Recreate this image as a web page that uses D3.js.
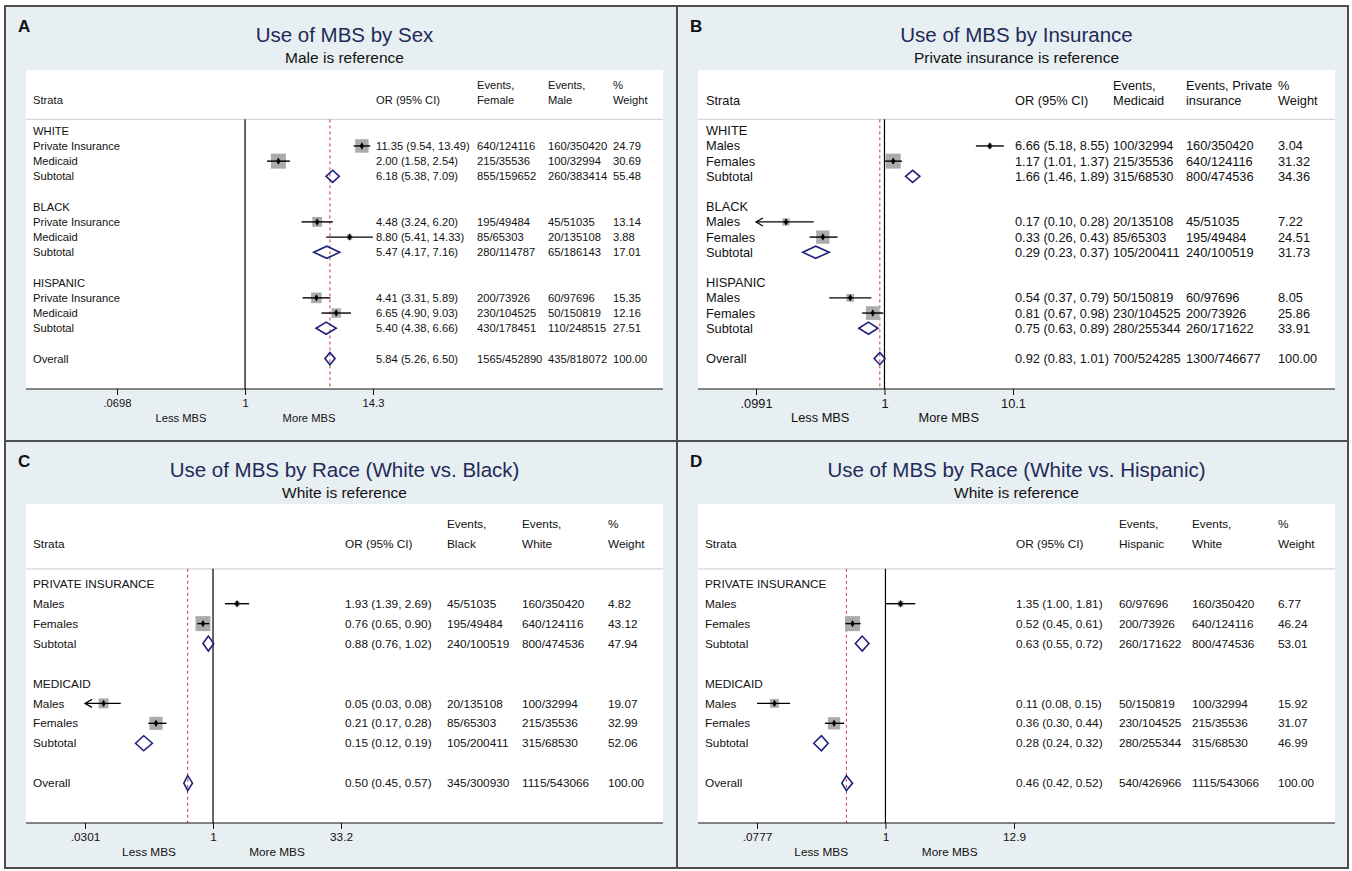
<!DOCTYPE html>
<html><head><meta charset="utf-8">
<script src="https://cdn.jsdelivr.net/npm/d3@7"></script>
<style>
body{margin:0;background:#fff}
text{font-family:"Liberation Sans",Arial,sans-serif}
</style>
</head><body>
<svg id="chart" width="1352" height="871"></svg>
<script>
// ---------- Panel A : Use of MBS by Sex ----------
const A_title = "Use of MBS by Sex";
const A_subtitle = "Male is reference";
const A_groups = ["WHITE", "BLACK", "HISPANIC"];
const A_strata = ["Private Insurance", "Medicaid"];
const A_or  = [11.35, 2.00, 6.18, 4.48, 8.80, 5.47, 4.41, 6.65, 5.40, 5.84];
const A_lcl = [9.54, 1.58, 5.38, 3.24, 5.41, 4.17, 3.31, 4.90, 4.38, 5.26];
const A_ucl = [13.49, 2.54, 7.09, 6.20, 14.33, 7.16, 5.89, 9.03, 6.66, 6.50];
const A_ev1 = ["640/124116","215/35536","855/159652","195/49484","85/65303","280/114787","200/73926","230/104525","430/178451","1565/452890"];
const A_ev2 = ["160/350420","100/32994","260/383414","45/51035","20/135108","65/186143","60/97696","50/150819","110/248515","435/818072"];
const A_weight = [24.79, 30.69, 55.48, 13.14, 3.88, 17.01, 15.35, 12.16, 27.51, 100.00];
const A_head1 = ["Events,", "Female"];
const A_head2 = ["Events,", "Male"];
const A_ticks = [0.0698, 1, 14.3];
const A_tickLabels = [".0698", "1", "14.3"];

// ---------- Panel B : Use of MBS by Insurance ----------
const B_title = "Use of MBS by Insurance";
const B_subtitle = "Private insurance is reference";
const B_groups = ["WHITE", "BLACK", "HISPANIC"];
const B_strata = ["Males", "Females"];
const B_or  = [6.66, 1.17, 1.66, 0.17, 0.33, 0.29, 0.54, 0.81, 0.75, 0.92];
const B_lcl = [5.18, 1.01, 1.46, 0.097, 0.26, 0.23, 0.37, 0.67, 0.63, 0.83];
const B_ucl = [8.55, 1.37, 1.89, 0.28, 0.43, 0.37, 0.79, 0.98, 0.89, 1.01];
const B_ev1 = ["100/32994","215/35536","315/68530","20/135108","85/65303","105/200411","50/150819","230/104525","280/255344","700/524285"];
const B_ev2 = ["160/350420","640/124116","800/474536","45/51035","195/49484","240/100519","60/97696","200/73926","260/171622","1300/746677"];
const B_weight = [3.04, 31.32, 34.36, 7.22, 24.51, 31.73, 8.05, 25.86, 33.91, 100.00];
const B_head1 = ["Events,", "Medicaid"];
const B_head2 = ["Events, Private", "insurance"];
const B_ticks = [0.0991, 1, 10.1];
const B_tickLabels = [".0991", "1", "10.1"];

// ---------- Panel C : Use of MBS by Race (White vs. Black) ----------
const C_title = "Use of MBS by Race (White vs. Black)";
const C_subtitle = "White is reference";
const C_groups = ["PRIVATE INSURANCE", "MEDICAID"];
const C_strata = ["Males", "Females"];
const C_or  = [1.93, 0.76, 0.88, 0.05, 0.21, 0.15, 0.50];
const C_lcl = [1.39, 0.65, 0.76, 0.029, 0.17, 0.12, 0.45];
const C_ucl = [2.69, 0.90, 1.02, 0.08, 0.28, 0.19, 0.57];
const C_ev1 = ["45/51035","195/49484","240/100519","20/135108","85/65303","105/200411","345/300930"];
const C_ev2 = ["160/350420","640/124116","800/474536","100/32994","215/35536","315/68530","1115/543066"];
const C_weight = [4.82, 43.12, 47.94, 19.07, 32.99, 52.06, 100.00];
const C_head1 = ["Events,", "Black"];
const C_head2 = ["Events,", "White"];
const C_ticks = [0.0301, 1, 33.2];
const C_tickLabels = [".0301", "1", "33.2"];

// ---------- Panel D : Use of MBS by Race (White vs. Hispanic) ----------
const D_title = "Use of MBS by Race (White vs. Hispanic)";
const D_subtitle = "White is reference";
const D_groups = ["PRIVATE INSURANCE", "MEDICAID"];
const D_strata = ["Males", "Females"];
const D_or  = [1.35, 0.52, 0.63, 0.11, 0.36, 0.28, 0.46];
const D_lcl = [1.00, 0.45, 0.55, 0.0777, 0.30, 0.24, 0.42];
const D_ucl = [1.81, 0.61, 0.72, 0.15, 0.44, 0.32, 0.52];
const D_ev1 = ["60/97696","200/73926","260/171622","50/150819","230/104525","280/255344","540/426966"];
const D_ev2 = ["160/350420","640/124116","800/474536","100/32994","215/35536","315/68530","1115/543066"];
const D_weight = [6.77, 46.24, 53.01, 15.92, 31.07, 46.99, 100.00];
const D_head1 = ["Events,", "Hispanic"];
const D_head2 = ["Events,", "White"];
const D_ticks = [0.0777, 1, 12.9];
const D_tickLabels = [".0777", "1", "12.9"];

// ---------- Layout / style (not data) ----------
const layout = {
  A:{x0:5,  y0:6,   x1:677,  y1:441, font:11.2, axisPx:[91,347], cols:[7,350,451,522,587], top:64, axis:383},
  B:{x0:677,y0:6,   x1:1348, y1:441, font:12.8, axisPx:[58,315], cols:[8,317,415,488,580], top:64, axis:383},
  C:{x0:5,  y0:441, x1:677,  y1:868, font:11.8, axisPx:[59,315], cols:[7,319,421,496,582], top:63, axis:382},
  D:{x0:677,y0:441, x1:1348, y1:868, font:11.8, axisPx:[59,316], cols:[7,318,421,494,580], top:63, axis:382}
};

const panels = [
  {key:"A", title:A_title, subtitle:A_subtitle, groups:A_groups, strata:A_strata, or:A_or, lcl:A_lcl, ucl:A_ucl, ev1:A_ev1, ev2:A_ev2, w:A_weight, h1:A_head1, h2:A_head2, ticks:A_ticks, tickLabels:A_tickLabels},
  {key:"B", title:B_title, subtitle:B_subtitle, groups:B_groups, strata:B_strata, or:B_or, lcl:B_lcl, ucl:B_ucl, ev1:B_ev1, ev2:B_ev2, w:B_weight, h1:B_head1, h2:B_head2, ticks:B_ticks, tickLabels:B_tickLabels},
  {key:"C", title:C_title, subtitle:C_subtitle, groups:C_groups, strata:C_strata, or:C_or, lcl:C_lcl, ucl:C_ucl, ev1:C_ev1, ev2:C_ev2, w:C_weight, h1:C_head1, h2:C_head2, ticks:C_ticks, tickLabels:C_tickLabels},
  {key:"D", title:D_title, subtitle:D_subtitle, groups:D_groups, strata:D_strata, or:D_or, lcl:D_lcl, ucl:D_ucl, ev1:D_ev1, ev2:D_ev2, w:D_weight, h1:D_head1, h2:D_head2, ticks:D_ticks, tickLabels:D_tickLabels}
];

const svg = d3.select("#chart");
const FONT = '"Liberation Sans", Arial, sans-serif';

function buildRows(p) {
  const rows = [];
  let k = 0;
  p.groups.forEach(gname => {
    rows.push({type:"group", label:gname});
    p.strata.forEach(s => { rows.push({type:"study", label:s, idx:k}); k++; });
    rows.push({type:"subtotal", label:"Subtotal", idx:k}); k++;
    rows.push({type:"blank"});
  });
  rows.push({type:"overall", label:"Overall", idx:k});
  return rows;
}

function drawPanel(p) {
  const L = layout[p.key];
  const g = svg.append("g");
  g.append("rect").attr("x", L.x0).attr("y", L.y0).attr("width", L.x1 - L.x0).attr("height", L.y1 - L.y0)
    .attr("fill", "#e8eff2");
  const wl = L.x0 + 21, wr = L.x0 + 658, wt = L.y0 + L.top, ay = L.y0 + L.axis;
  g.append("rect").attr("x", wl).attr("y", wt).attr("width", wr - wl).attr("height", ay - wt).attr("fill", "#fff");

  // panel letter, title, subtitle
  g.append("text").attr("x", L.x0 + 13).attr("y", L.y0 + 26).text(p.key)
    .attr("font-size", 17).attr("font-weight", "bold").attr("fill", "#111");
  const cx = (wl + wr) / 2;
  g.append("text").attr("x", cx).attr("y", L.y0 + 36).attr("text-anchor", "middle")
    .attr("font-size", 20.5).attr("fill", "#1d2b59").text(p.title);
  g.append("text").attr("x", cx).attr("y", L.y0 + 57).attr("text-anchor", "middle")
    .attr("font-size", 15.5).attr("fill", "#111").text(p.subtitle);

  const rows = buildRows(p);
  const N = rows.length - 1;
  const y = d3.scaleLinear().domain([-4, N + 2]).range([wt, ay]);
  const rowH = y(1) - y(0);
  const x = d3.scaleLog().domain([p.ticks[0], p.ticks[2]]).range([wl + L.axisPx[0], wl + L.axisPx[1]]);
  const [dmin, dmax] = x.domain();
  const fs = L.font;

  const txt = (xx, yy, s, anchor) => g.append("text").attr("x", xx).attr("y", yy).attr("dy", "0.35em")
    .attr("font-size", fs).attr("fill", "#111").attr("text-anchor", anchor || "start").text(s);

  // header (two lines)
  const hy1 = y(-3), hy2 = y(-2);
  txt(wl + L.cols[0], hy2, "Strata");
  txt(wl + L.cols[1], hy2, "OR (95% CI)");
  txt(wl + L.cols[2], hy1, p.h1[0]); txt(wl + L.cols[2], hy2, p.h1[1]);
  txt(wl + L.cols[3], hy1, p.h2[0]); txt(wl + L.cols[3], hy2, p.h2[1]);
  txt(wl + L.cols[4], hy1, "%");     txt(wl + L.cols[4], hy2, "Weight");

  const sepY = y(-0.75);
  g.append("line").attr("x1", wl).attr("x2", wr).attr("y1", sepY).attr("y2", sepY)
    .attr("stroke", "#d6d6d6").attr("stroke-width", 1.3);

  // reference lines
  g.append("line").attr("x1", x(1)).attr("x2", x(1)).attr("y1", sepY).attr("y2", ay)
    .attr("stroke", "#000").attr("stroke-width", 1.2);
  const overallIdx = p.or.length - 1;
  g.append("line").attr("x1", x(p.or[overallIdx])).attr("x2", x(p.or[overallIdx])).attr("y1", sepY).attr("y2", ay)
    .attr("stroke", "#c8373a").attr("stroke-width", 1).attr("stroke-dasharray", "3,3");

  const diamondH = 0.6 * rowH + 3;
  const studyW = rows.filter(r => r.type === "study").map(r => p.w[r.idx]);
  const maxW = d3.max(studyW);

  rows.forEach((r, i) => {
    if (r.type === "blank") return;
    const yy = y(i);
    txt(wl + L.cols[0], yy, r.label);
    if (r.type === "group") return;
    const k = r.idx;
    const o = p.or[k], lo = p.lcl[k], hi = p.ucl[k];
    txt(wl + L.cols[1], yy, `${o.toFixed(2)} (${lo.toFixed(2)}, ${hi.toFixed(2)})`);
    txt(wl + L.cols[2], yy, p.ev1[k]);
    txt(wl + L.cols[3], yy, p.ev2[k]);
    txt(wl + L.cols[4], yy, p.w[k].toFixed(2));

    if (r.type === "study") {
      const side = 15 * Math.sqrt(p.w[k] / maxW);
      g.append("rect").attr("x", x(o) - side / 2).attr("y", yy - side / 2)
        .attr("width", side).attr("height", side).attr("fill", "#ababab");
      const clipLo = lo < dmin * 0.99, clipHi = hi > dmax * 1.01;
      const xl = x(Math.max(lo, dmin)), xh = x(Math.min(hi, dmax));
      g.append("line").attr("x1", xl).attr("x2", xh).attr("y1", yy).attr("y2", yy)
        .attr("stroke", "#000").attr("stroke-width", 1.4);
      if (clipLo) g.append("path").attr("d", `M${xl + 7},${yy - 4}L${xl},${yy}L${xl + 7},${yy + 4}`)
        .attr("fill", "none").attr("stroke", "#000").attr("stroke-width", 1.2);
      if (clipHi) g.append("path").attr("d", `M${xh - 7},${yy - 4}L${xh},${yy}L${xh - 7},${yy + 4}`)
        .attr("fill", "none").attr("stroke", "#000").attr("stroke-width", 1.2);
      g.append("path").attr("transform", `translate(${x(o)},${yy})`)
        .attr("d", d3.symbol().type(d3.symbolDiamond).size(16)()).attr("fill", "#000");
    } else {
      const pts = [[x(lo), yy], [x(o), yy - diamondH / 2], [x(hi), yy], [x(o), yy + diamondH / 2]];
      g.append("polygon").attr("points", pts.map(q => q.join(",")).join(" "))
        .attr("fill", "none").attr("stroke", "#1f237f").attr("stroke-width", 1.6);
    }
  });

  // x axis
  g.append("line").attr("x1", wl).attr("x2", wr).attr("y1", ay).attr("y2", ay)
    .attr("stroke", "#111").attr("stroke-width", 1);
  const axG = g.append("g").attr("transform", `translate(0,${ay})`)
    .call(d3.axisBottom(x).tickValues(p.ticks).tickFormat((d, i) => p.tickLabels[i]).tickSize(6).tickPadding(4));
  axG.select(".domain").remove();
  axG.selectAll("line").attr("stroke", "#111");
  axG.selectAll("text").attr("font-size", fs).attr("font-family", FONT).attr("fill", "#111");

  const ly = ay + 29;
  txt(x(Math.sqrt(p.ticks[0] * 1)), ly, "Less MBS", "middle");
  txt(x(Math.sqrt(p.ticks[2] * 1)), ly, "More MBS", "middle");
}

panels.forEach(drawPanel);

// frame and dividers
svg.append("rect").attr("x", 5).attr("y", 6).attr("width", 1343).attr("height", 862)
  .attr("fill", "none").attr("stroke", "#4d4d4d").attr("stroke-width", 2);
svg.append("line").attr("x1", 677).attr("x2", 677).attr("y1", 6).attr("y2", 868)
  .attr("stroke", "#4d4d4d").attr("stroke-width", 2);
svg.append("line").attr("x1", 5).attr("x2", 1348).attr("y1", 441).attr("y2", 441)
  .attr("stroke", "#4d4d4d").attr("stroke-width", 2);
</script>
</body></html>
